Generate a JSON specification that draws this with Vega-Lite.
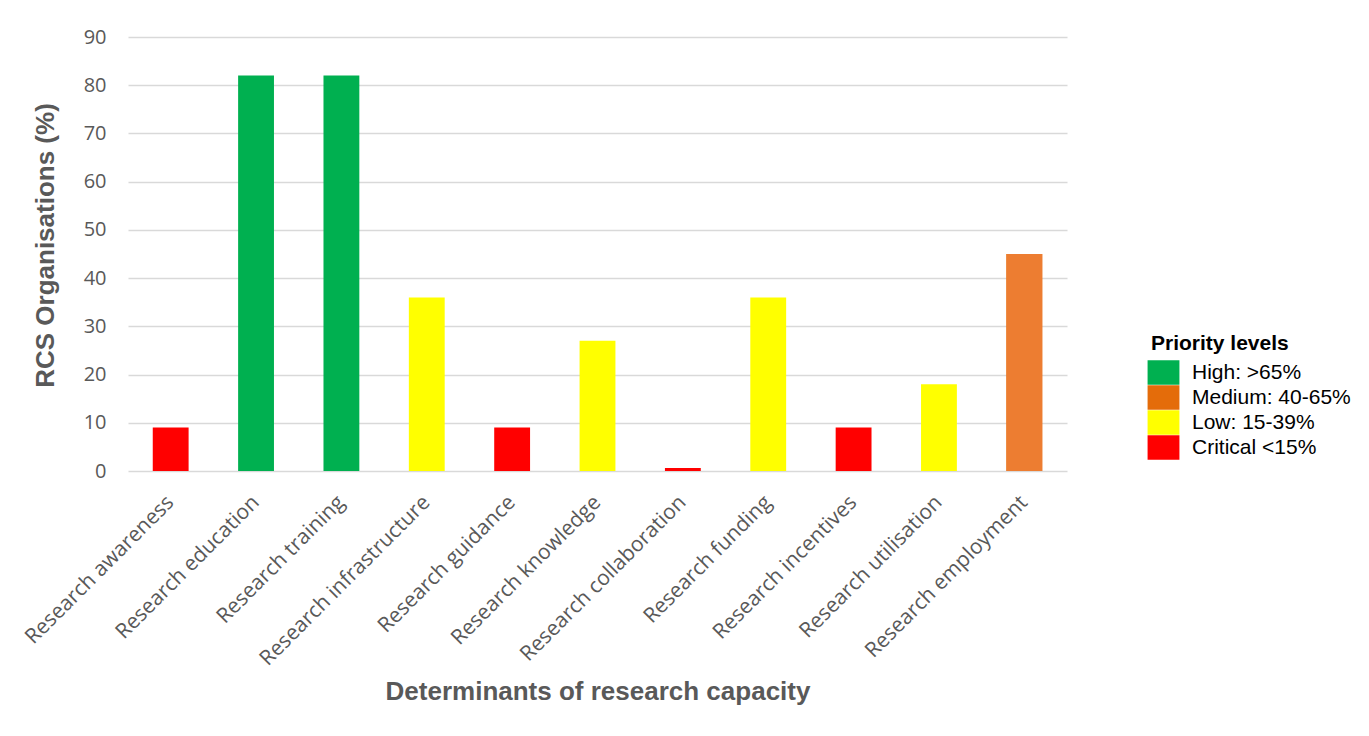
{
  "$schema": "https://vega.github.io/schema/vega-lite/v6.json",
  "autosize": "none",
  "width": 939,
  "height": 434,
  "padding": {"left": 128, "top": 37, "right": 302, "bottom": 265},
  "background": "white",
  "config": {"view": {"stroke": null}},
  "data": {
    "values": [
      {"determinant": "Research awareness", "pct": 9, "level": "Critical <15%"},
      {"determinant": "Research education", "pct": 82, "level": "High: >65%"},
      {"determinant": "Research training", "pct": 82, "level": "High: >65%"},
      {"determinant": "Research infrastructure", "pct": 36, "level": "Low: 15-39%"},
      {"determinant": "Research guidance", "pct": 9, "level": "Critical <15%"},
      {"determinant": "Research knowledge", "pct": 27, "level": "Low: 15-39%"},
      {"determinant": "Research collaboration", "pct": 0.6, "level": "Critical <15%"},
      {"determinant": "Research funding", "pct": 36, "level": "Low: 15-39%"},
      {"determinant": "Research incentives", "pct": 9, "level": "Critical <15%"},
      {"determinant": "Research utilisation", "pct": 18, "level": "Low: 15-39%"},
      {"determinant": "Research employment", "pct": 45, "level": "Medium: 40-65%"}
    ]
  },
  "encoding": {
    "x": {
      "field": "determinant",
      "type": "nominal",
      "sort": null,
      "scale": {"paddingInner": 0.58, "paddingOuter": 0.29},
      "axis": {
        "title": "Determinants of research capacity",
        "titleFont": "Liberation Sans",
        "titleFontSize": 26,
        "titleFontWeight": "bold",
        "titleColor": "#595959",
        "titleY": 207,
        "labelAngle": -45,
        "labelAlign": "right",
        "labelBaseline": "middle",
        "labelFont": "Open Sans",
        "labelFontSize": 21,
        "labelColor": "#595959",
        "labelPadding": 28,
        "ticks": false,
        "domain": false,
        "labelOverlap": false,
        "labelLimit": 400
      }
    },
    "y": {
      "field": "pct",
      "type": "quantitative",
      "scale": {"domain": [0, 90], "nice": false},
      "axis": {
        "title": "RCS Organisations (%)",
        "titleFont": "Liberation Sans",
        "titleFontSize": 26,
        "titleFontWeight": "bold",
        "titleColor": "#595959",
        "titleX": -70,
        "titleY": 208,
        "values": [0, 10, 20, 30, 40, 50, 60, 70, 80, 90],
        "labelFont": "Open Sans",
        "labelFontSize": 20,
        "labelColor": "#595959",
        "labelPadding": 22,
        "ticks": false,
        "domain": false,
        "grid": true,
        "gridColor": "#d9d9d9",
        "gridWidth": 1.5
      }
    }
  },
  "layer": [
    {
      "mark": {"type": "bar"},
      "encoding": {
        "color": {
          "field": "level",
          "type": "nominal",
          "scale": {
            "domain": ["High: >65%", "Medium: 40-65%", "Low: 15-39%", "Critical <15%"],
            "range": ["#00B050", "#E46C0A", "#FFFF00", "#FF0000"]
          },
          "legend": {
            "title": "Priority levels",
            "orient": "none",
            "legendX": 1023,
            "legendY": 296,
            "titleFont": "Liberation Sans",
            "titleFontSize": 21,
            "titleFontWeight": "bold",
            "titleColor": "#000000",
            "titlePadding": 6,
            "labelFont": "Liberation Sans",
            "labelFontSize": 21,
            "labelColor": "#000000",
            "labelOffset": 16,
            "symbolType": "M-1.3,-1H1.3V1H-1.3Z",
            "symbolSize": 600,
            "symbolStrokeWidth": 0,
            "symbolOpacity": 1,
            "rowPadding": 0,
            "labelLimit": 300
          }
        }
      }
    },
    {
      "transform": [{"filter": "datum.level === 'Medium: 40-65%'"}],
      "mark": {"type": "bar", "color": "#ED7D31"}
    }
  ]
}
